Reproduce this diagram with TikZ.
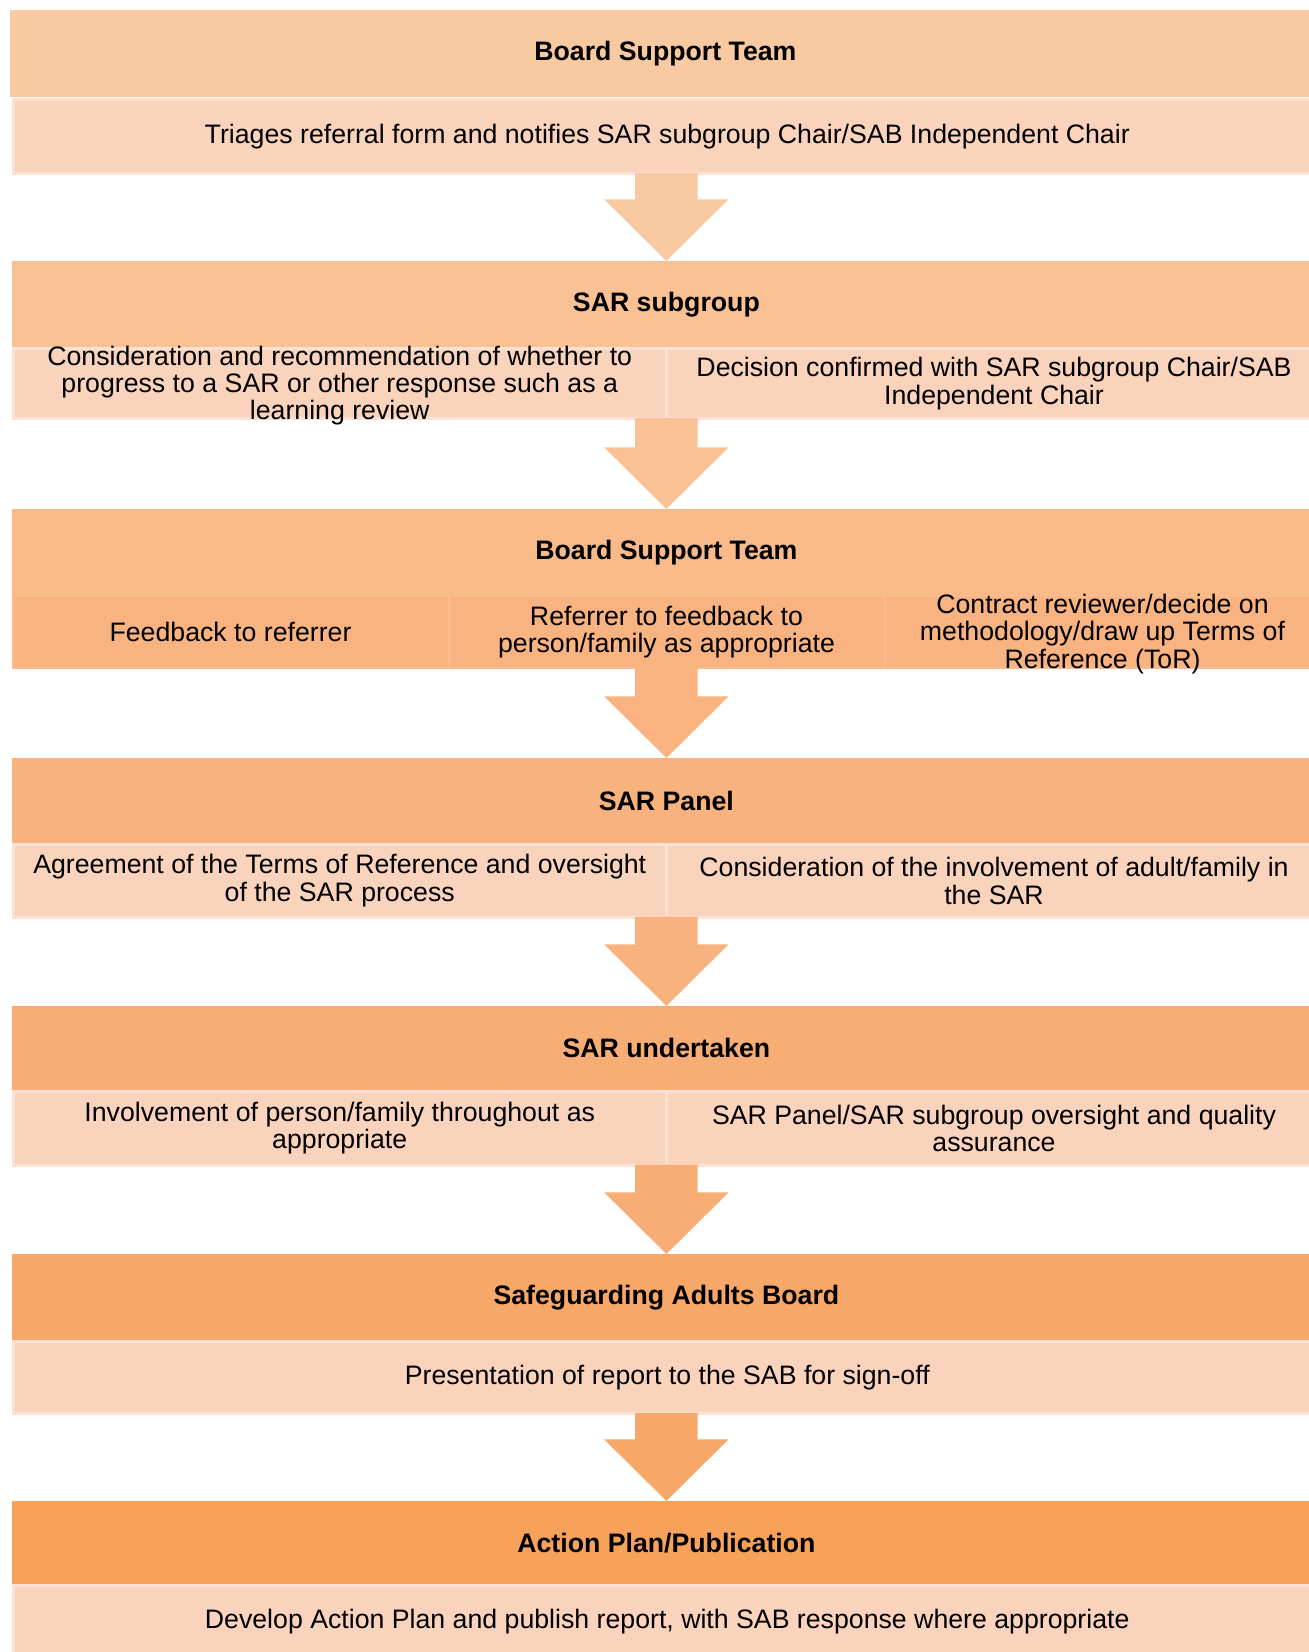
\documentclass[tikz,border=0pt]{standalone}
\usepackage{fontspec}
\setmainfont{Liberation Sans}
\usetikzlibrary{calc}
\definecolor{hA}{HTML}{F9CAA2}
\definecolor{hB}{HTML}{F9C194}
\definecolor{hC}{HTML}{F9BA8A}
\definecolor{hD}{HTML}{F8B27E}
\definecolor{hE}{HTML}{F7AD73}
\definecolor{hF}{HTML}{F7A767}
\definecolor{hG}{HTML}{F6A25B}
\definecolor{bodyfill}{HTML}{FAD3BC}
\definecolor{bodyedge}{HTML}{FCE2D5}
\definecolor{midfill}{HTML}{F8B380}
\definecolor{midedge}{HTML}{F9BC8E}
\newcommand{\flowarrow}[3]{%
  \fill[#3] ($(#2 |- #1)+(-31.2,-2)$) -- ($(#2)+(-31.2,-61.7)$) -- ($(#2)+(-62.2,-61.7)$)
    -- (#2) -- ($(#2)+(62.2,-61.7)$) -- ($(#2)+(31.2,-61.7)$) -- ($(#2 |- #1)+(31.2,-2)$) -- cycle;}
\begin{document}
\begin{tikzpicture}[x=0.5pt,y=-0.5pt,
  hdr/.style={fill=#1, draw=none, anchor=north west, inner sep=0pt, minimum width=654pt,
    font=\bfseries\fontsize{13.35}{13.9}\selectfont},
  cell/.style={fill=bodyfill, draw=bodyedge, line width=1.5pt, anchor=north west, inner sep=0pt},
  midcell/.style={cell, fill=midfill, draw=midedge, line width=1pt},
  txt/.style={inner sep=0pt, align=center, font=\fontsize{13.35}{13.7}\selectfont}]
\useasboundingbox (0,0) rectangle (1309,1652);
\clip (0,0) rectangle (1309,1652);
% ---- stage 1
\node[cell, minimum width=654.25pt, minimum height=36.75pt] (b1) at (11.5,98.5) {};
\node[hdr=hA, minimum width=655pt, minimum height=43.5pt] (h1) at (10,10) {Board Support Team};
% ---- stage 2
\node[cell, minimum width=326.75pt, minimum height=35pt] (b2a) at (11.5,347) {};
\node[cell, minimum width=327.5pt, minimum height=35pt] (b2b) at (665,347) {};
\node[hdr=hB, minimum height=43pt] (h2) at (12,261) {SAR subgroup};
\flowarrow{b1.south}{h2.north}{hA}
% ---- stage 3
\node[midcell, minimum width=218pt, minimum height=36pt] (b3a) at (11.5,595) {};
\node[midcell, minimum width=218pt, minimum height=36pt] (b3b) at (447.5,595) {};
\node[midcell, minimum width=218pt, minimum height=36pt] (b3c) at (883.5,595) {};
\node[hdr=hC, minimum height=43pt] (h3) at (12,509) {Board Support Team};
\flowarrow{b2a.south}{h3.north}{hB}
% ---- stage 4
\node[cell, minimum width=326.75pt, minimum height=36.25pt] (b4a) at (11.5,843) {};
\node[cell, minimum width=327.5pt, minimum height=36.25pt] (b4b) at (665,843) {};
\node[hdr=hD, minimum height=42.5pt] (h4) at (12,758) {SAR Panel};
\flowarrow{b3b.south}{h4.north}{midfill}
% ---- stage 5
\node[cell, minimum width=326.75pt, minimum height=36.75pt] (b5a) at (11.5,1090) {};
\node[cell, minimum width=327.5pt, minimum height=36.75pt] (b5b) at (665,1090) {};
\node[hdr=hE, minimum height=42pt] (h5) at (12,1006) {SAR undertaken};
\flowarrow{b4a.south}{h5.north}{hD}
% ---- stage 6
\node[cell, minimum width=654.25pt, minimum height=36pt] (b6) at (11.5,1340) {};
\node[hdr=hF, minimum height=43pt] (h6) at (12,1254) {Safeguarding Adults Board};
\flowarrow{b5a.south}{h6.north}{hE}
% ---- stage 7
\node[cell, minimum width=654.25pt, minimum height=36pt] (b7) at (11.5,1584) {};
\node[hdr=hG, minimum height=41.5pt] (h7) at (12,1501) {Action Plan/Publication};
\flowarrow{b6.south}{h7.north}{hF}
% ---- texts of the cells (drawn last so they lie above the headers)
\node[txt] (t1) at (b1.center)
  {Triages referral form and notifies SAR subgroup Chair/SAB Independent Chair};
\node[txt] (t2a) at ($(b2a.center)+(0,2)$)
  {Consideration and recommendation of whether to\\progress to a SAR or other response such as a\\learning review};
\node[txt] (t2b) at (b2b.center)
  {Decision confirmed with SAR subgroup Chair/SAB\\Independent Chair};
\node[txt] (t3a) at (b3a.center) {Feedback to referrer};
\node[txt] (t3b) at (b3b.center) {Referrer to feedback to\\person/family as appropriate};
\node[txt] (t3c) at ($(b3c.center)+(0,2)$) {Contract reviewer/decide on\\methodology/draw up Terms of\\Reference (ToR)};
\node[txt] (t4a) at (b4a.center) {Agreement of the Terms of Reference and oversight\\of the SAR process};
\node[txt] (t4b) at (b4b.center) {Consideration of the involvement of adult/family in\\the SAR};
\node[txt] (t5a) at (b5a.center) {Involvement of person/family throughout as\\appropriate};
\node[txt] (t5b) at (b5b.center) {SAR Panel/SAR subgroup oversight and quality\\assurance};
\node[txt] (t6) at (b6.center) {Presentation of report to the SAB for sign-off};
\node[txt] (t7) at (b7.center) {Develop Action Plan and publish report, with SAB response where appropriate};
\end{tikzpicture}
\end{document}
